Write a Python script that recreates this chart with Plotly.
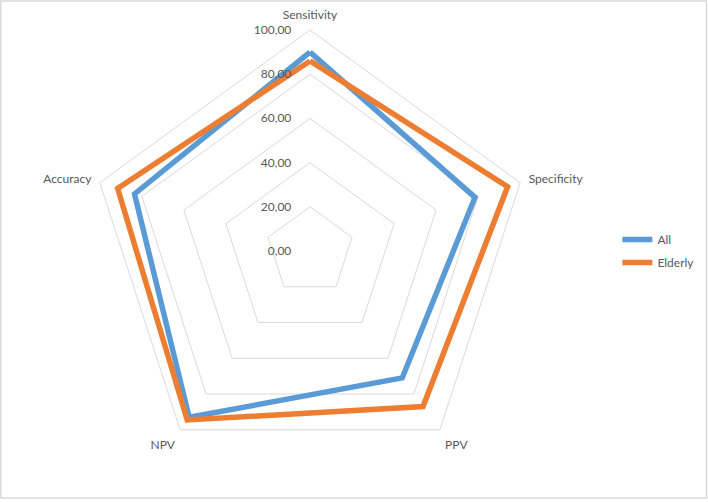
import plotly.graph_objects as go

categories = ["Sensitivity", "Specificity", "PPV", "NPV", "Accuracy"]
all_values = [90, 78.5, 71, 93, 83.5]
elderly_values = [86, 94, 87, 94.5, 91.5]
series_names = ["All", "Elderly"]
radial_ticks = [0, 20, 40, 60, 80, 100]

fig = go.Figure()
fig.add_trace(go.Scatterpolar(
    r=all_values + all_values[:1], theta=categories + categories[:1],
    mode="lines", name=series_names[0], legendgroup="a",
    line=dict(color="#5B9BD5", width=5.5)))
fig.add_trace(go.Scatterpolar(
    r=elderly_values + elderly_values[:1], theta=categories + categories[:1],
    mode="lines", name=series_names[1], legendgroup="b",
    line=dict(color="#ED7D31", width=5.5)))

W, H = 708, 502
cx, cy, R = 310, 251, 221
fig.update_layout(
    width=W, height=H,
    margin=dict(l=0, r=0, t=0, b=0),
    paper_bgcolor="white",
    separators=",.",
    font=dict(family="Lato, Open Sans, sans-serif", size=12, color="#595959"),
    polar=dict(
        domain=dict(x=[(cx - R) / W, (cx + R) / W], y=[(H - cy - R) / H, (H - cy + R) / H]),
        bgcolor="white",
        gridshape="linear",
        radialaxis=dict(
            range=[0, 100], tickvals=radial_ticks, tickformat=".2f",
            angle=90, tickangle=90, side="counterclockwise",
            showline=False, ticks="outside", ticklen=14, tickcolor="rgba(0,0,0,0)",
            gridcolor="#d9d9d9", gridwidth=1,
            tickfont=dict(size=12, color="#595959"),
        ),
        angularaxis=dict(
            rotation=90, direction="clockwise",
            showgrid=False, showline=True, linecolor="#d9d9d9", linewidth=1,
            ticks="outside", ticklen=6, tickcolor="rgba(0,0,0,0)",
            tickfont=dict(size=12, color="#595959"),
        ),
    ),
    showlegend=True,
    legend=dict(x=0.872, y=0.5, xanchor="left", yanchor="middle",
                font=dict(size=12, color="#595959"), bgcolor="rgba(0,0,0,0)",
                traceorder="grouped", tracegroupgap=4),
    shapes=[dict(type="rect", xref="paper", yref="paper", x0=0.001, x1=0.998, y0=0.008, y1=0.998,
                 line=dict(color="#d9d9d9", width=1.5), fillcolor="rgba(0,0,0,0)", layer="below")],
)

fig.write_html("out.html")
